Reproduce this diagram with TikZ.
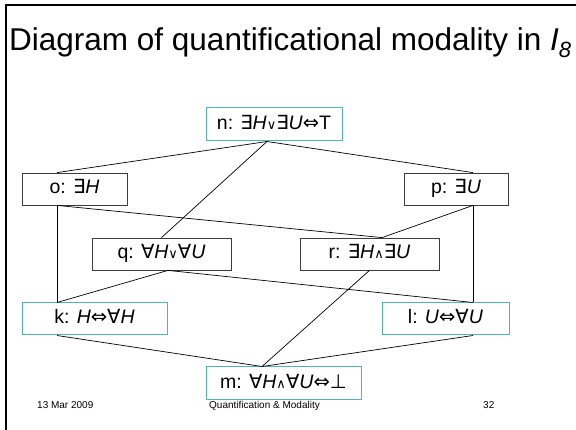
\documentclass[tikz,border=0pt]{standalone}
\usepackage{fontspec}
\setmainfont{Liberation Sans}
\newfontfamily\symf{DejaVu Sans}
\usetikzlibrary{positioning}

\definecolor{boxteal}{RGB}{80,182,172}
\definecolor{boxgray}{RGB}{60,60,60}

% quantifier and connective glyphs
\newcommand{\qEx}{{\symf ∃}}
\newcommand{\qAll}{{\symf ∀}}
\newcommand{\qOr}{{\symf\fontsize{13}{13}\selectfont ∨}}
\newcommand{\qAnd}{{\symf\fontsize{13}{13}\selectfont ∧}}
\newcommand{\qIff}{{\symf ⇔}}
\newcommand{\qBot}{{\symf ⊥}}

\begin{document}
\begin{tikzpicture}[x=1pt, y=-1pt,
  state/.style={draw=boxgray, line width=0.8pt, fill=white, inner sep=0pt, font=\fontsize{19.5}{22}\selectfont, text height=14pt, text depth=4pt},
  keystate/.style={state, draw=boxteal, line width=1pt},
  link/.style={line width=0.7pt, black},
  foot/.style={font=\fontsize{10}{12}\selectfont, anchor=base west, inner sep=0pt}]
  \useasboundingbox (0,0) rectangle (576,430);

  % slide frame
  \draw[line width=2pt] (6,430) -- (6,5) -- (576,5);
  \node[anchor=base west, inner sep=0pt, font=\fontsize{31.5}{36}\selectfont] (title) at (9,51) {Diagram of quantificational modality in \textit{I}\textsubscript{\textit{8}}};

  \node[keystate, minimum width=136pt, minimum height=33pt] (n) at (274,124.5) {n: \qEx\textit{H}\qOr\qEx\textit{U}\qIff T};
  \node[state, minimum width=105pt, minimum height=32pt] (o) at (74.5,189) {o: \qEx\textit{H}};
  \node[state, minimum width=104pt, minimum height=32pt] (p) at (456,189) {p: \qEx\textit{U}};
  \node[state, minimum width=139pt, minimum height=32pt] (q) at (161.5,254) {q: \qAll\textit{H}\qOr\qAll\textit{U}};
  \node[state, minimum width=139pt, minimum height=32pt] (r) at (369.5,254) {r: \qEx\textit{H}\qAnd\qEx\textit{U}};
  \node[keystate, minimum width=145pt, minimum height=32pt] (k) at (94.5,319) {k: \textit{H}\qIff\qAll\textit{H}};
  \node[keystate, minimum width=127pt, minimum height=32pt] (l) at (445.5,319) {l: \textit{U}\qIff\qAll\textit{U}};
  \node[keystate, minimum width=155pt, minimum height=33pt] (m) at (283.5,383.5) {m: \qAll\textit{H}\qAnd\qAll\textit{U}\qIff\qBot};

  \draw[link] ([xshift=-7pt]n.south) -- ([xshift=-17.5pt]o.north);
  \draw[link] ([xshift=-7pt]n.south) -- ([xshift=17pt]p.north);
  \draw[link] ([xshift=-7pt]n.south) -- (q.north);
  \draw[link] ([xshift=-17.5pt]o.south) -- ([xshift=-37.5pt]k.north);
  \draw[link] ([xshift=-17.5pt]o.south) -- ([xshift=12.5pt]r.north);
  \draw[link] ([xshift=17pt]p.south) -- ([xshift=27.5pt]l.north);
  \draw[link] ([xshift=17pt]p.south) -- ([xshift=12.5pt]r.north);
  \draw[link] ([xshift=6.5pt]q.south) -- ([xshift=-37.5pt]k.north);
  \draw[link] ([xshift=6.5pt]q.south) -- ([xshift=27.5pt]l.north);
  \draw[link] (r.south) -- ([xshift=-21.5pt]m.north);
  \draw[link] ([xshift=-37.5pt]k.south) -- ([xshift=-21.5pt]m.north);
  \draw[link] ([xshift=27.5pt]l.south) -- ([xshift=-21.5pt]m.north);

  \node[foot] (date) at (37,409) {13 Mar 2009};
  \node[foot] (topic) at (209,409) {Quantification \& Modality};
  \node[foot] (page) at (483,409) {32};
\end{tikzpicture}
\end{document}
